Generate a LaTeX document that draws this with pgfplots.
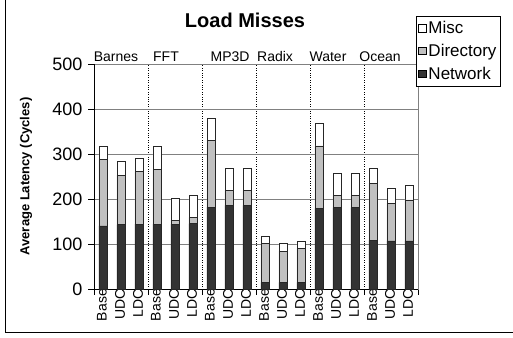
\documentclass[border=0pt]{standalone}
\usepackage{pgfplots}
\usepackage{pgfplotstable}
\pgfplotsset{compat=1.18}
\usepackage{fontspec}
\setmainfont{Liberation Sans}
\definecolor{netc}{HTML}{333333}
\definecolor{dirc}{HTML}{C0C0C0}
\definecolor{gridc}{HTML}{808080}
\pgfplotstableread{
x net dir misc
0 140 148 28
1 143 110 31
2 144 117 29
3 144 122 50
4 144 9 49
5 145 14 50
6 182 149 48
7 186 33 49
8 186 33 49
9 15 86 16
10 15 69 17
11 15 75 16
12 179 139 50
13 181 27 50
14 181 26 51
15 108 127 33
16 107 83 34
17 107 91 32
}\loaddata
\begin{document}
\begin{tikzpicture}
\useasboundingbox (0,0) rectangle (513pt,337pt);
\draw[line width=1pt] (5pt,400pt) -- (5pt,5pt) -- (600pt,5pt);
\node[font=\fontsize{20}{20}\selectfont\bfseries] at (245pt,317pt) {Load Misses};
\begin{axis}[
  at={(94pt,48pt)}, anchor=south west,
  scale only axis, width=324pt, height=225pt,
  ybar stacked, bar width=0.45,
  xmin=-0.5, xmax=17.5, ymin=0, ymax=500,
  clip=false,
  axis line style={draw=gridc, line width=0.8pt},
  xtick={-0.5,2.5,...,17.5},
  xticklabels={},
  xtick pos=bottom, ytick pos=left,
  xmajorgrids=true,
  extra x ticks={0,...,17},
  extra x tick labels={Base,UDC,LDC,Base,UDC,LDC,Base,UDC,LDC,Base,UDC,LDC,Base,UDC,LDC,Base,UDC,LDC},
  extra x tick style={grid=none, major tick length=0pt,
    tick label style={font=\fontsize{14}{14}\selectfont, rotate=90, anchor=east, inner sep=0pt, yshift=1pt}},
  x grid style={black, dotted, line width=0.8pt},
  ytick={0,100,...,500},
  ymajorgrids=true,
  y grid style={gridc, line width=0.8pt},
  tick style={black, line width=0.8pt},
  major tick length=5.5pt,
  tick align=outside,
  /pgf/number format/assume math mode=true,
  yticklabel style={font=\fontsize{18}{18}\selectfont, inner sep=0pt, xshift=-6pt},
  ylabel={Average Latency (Cycles)},
  ylabel style={font=\fontsize{13}{13}\selectfont\bfseries, at={(axis description cs:-0.21,0.5)}, anchor=center},
  legend style={at={(axis description cs:0.9938,1.213)}, anchor=north west, draw=black, fill=white,
    font=\fontsize{17}{17}\selectfont, inner xsep=2pt, inner ysep=3pt, row sep=5pt,
    cells={anchor=west}},
  legend image code/.code={\draw[#1, draw=black] (0pt,-3.8pt) rectangle (7.6pt,3.8pt);},
  reverse legend=true,
]
\addplot[fill=netc, draw=black!85, line width=0.7pt] table[x=x,y=net] {\loaddata};
\addlegendentry{Network}
\addplot[fill=dirc, draw=black!85, line width=0.7pt] table[x=x,y=dir] {\loaddata};
\addlegendentry{Directory}
\addplot[fill=white, draw=black!85, line width=0.7pt] table[x=x,y=misc] {\loaddata};
\addlegendentry{Misc}
\draw[black, line width=0.8pt] (rel axis cs:0,1) -- (rel axis cs:0,0) -- (rel axis cs:1,0);
\node[font=\fontsize{14}{14}\selectfont] at (axis cs:0.72,516) {Barnes};
\node[font=\fontsize{14}{14}\selectfont] at (axis cs:3.5,516) {FFT};
\node[font=\fontsize{14}{14}\selectfont] at (axis cs:7.06,516) {MP3D};
\node[font=\fontsize{14}{14}\selectfont] at (axis cs:9.56,516) {Radix};
\node[font=\fontsize{14}{14}\selectfont] at (axis cs:12.5,516) {Water};
\node[font=\fontsize{14}{14}\selectfont] at (axis cs:15.39,516) {Ocean};
\end{axis}
\end{tikzpicture}
\end{document}
